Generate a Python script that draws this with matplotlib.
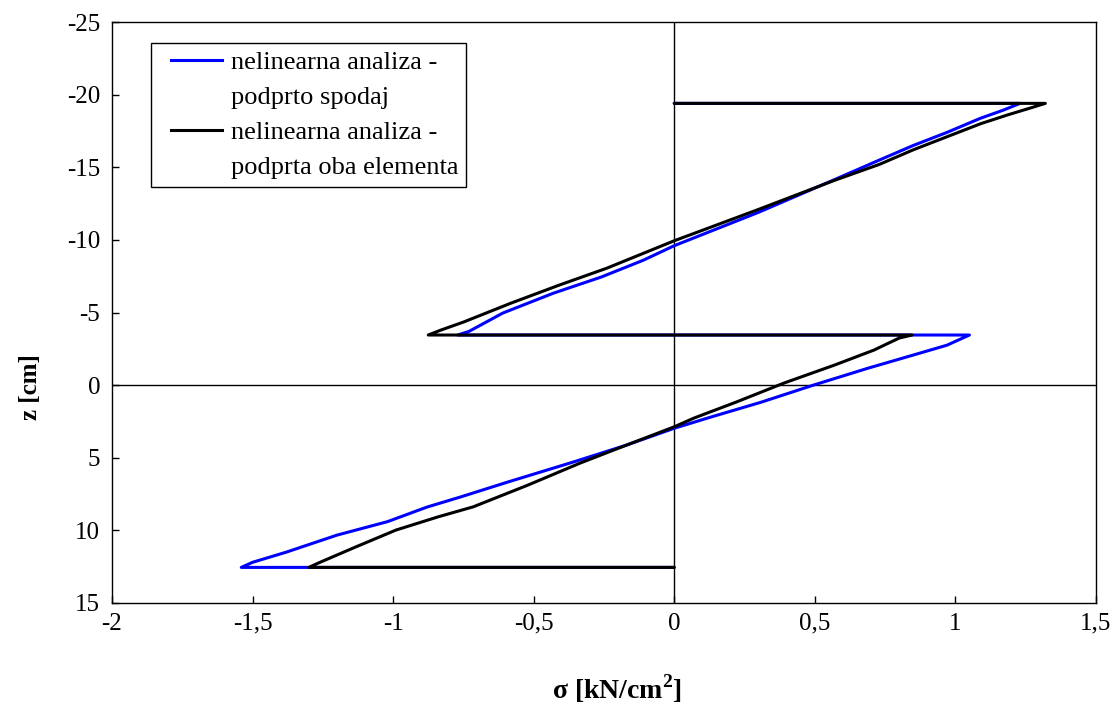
import matplotlib
matplotlib.use("Agg")
import matplotlib.pyplot as plt
from matplotlib.lines import Line2D
from matplotlib.legend_handler import HandlerLine2D

plt.rcParams['font.family'] = ['Liberation Serif', 'DejaVu Serif']
plt.rcParams['mathtext.fontset'] = 'custom'
plt.rcParams['mathtext.rm'] = 'Liberation Serif'
plt.rcParams['mathtext.bf'] = 'Liberation Serif:bold'

# Stress profiles sigma [kN/cm2] over depth z [cm]
sigma_spodaj = [0.0, 1.23, 1.17, 1.09, 0.97, 0.85, 0.73, 0.57, 0.30, 0.0,
                -0.11, -0.26, -0.43, -0.61, -0.73, -0.77,
                1.05, 0.97, 0.85, 0.69, 0.495, 0.31, 0.13, 0.0,
                -0.17, -0.36, -0.59, -0.76, -0.88, -1.02, -1.20, -1.38,
                -1.50, -1.54, 0.0]
z_spodaj = [-19.4, -19.4, -18.93, -18.38, -17.4, -16.5, -15.5, -14.15, -11.9, -9.6,
            -8.6, -7.44, -6.33, -4.96, -3.7, -3.45,
            -3.45, -2.75, -2.07, -1.17, 0.0, 1.17, 2.2, 2.97,
            4.13, 5.3, 6.66, 7.7, 8.4, 9.4, 10.33, 11.5,
            12.2, 12.55, 12.55]

sigma_oba = [0.0, 1.32, 1.27, 1.185, 1.09, 0.97, 0.85, 0.73, 0.57, 0.30, 0.0,
             -0.24, -0.41, -0.58, -0.75, -0.83, -0.875,
             0.846, 0.80, 0.71, 0.57, 0.39, 0.22, 0.07, 0.0,
             -0.17, -0.335, -0.52, -0.715, -0.84, -0.99, -1.14, -1.26,
             -1.30, 0.0]
z_oba = [-19.4, -19.4, -19.1, -18.6, -18.0, -17.1, -16.2, -15.2, -14.1, -12.1, -9.94,
         -8.05, -6.88, -5.65, -4.34, -3.79, -3.45,
         -3.45, -3.24, -2.41, -1.38, -0.14, 1.17, 2.27, 2.87,
         4.13, 5.37, 6.88, 8.38, 9.07, 9.98, 11.2, 12.2,
         12.55, 12.55]

label_spodaj = ["nelinearna analiza -", "podprto spodaj"]
label_oba = ["nelinearna analiza -", "podprta oba elementa"]

x_ticks = [-2, -1.5, -1, -0.5, 0, 0.5, 1, 1.5]
x_ticklabels = ["-2", "-1,5", "-1", "-0,5", "0", "0,5", "1", "1,5"]
y_ticks = [-25, -20, -15, -10, -5, 0, 5, 10, 15]
y_ticklabels = ["-25", "-20", "-15", "-10", "-5", "0", "5", "10", "15"]

fig = plt.figure(figsize=(11.14, 7.13), dpi=100)
ax = fig.add_axes([0.1005, 0.1543, 0.8833, 0.8148])

ax.axhline(0, color='black', lw=1.0, zorder=1)
ax.axvline(0, color='black', lw=1.0, zorder=1)

ax.plot(sigma_spodaj, z_spodaj, color='#0000ff', lw=2.2, zorder=3,
        solid_joinstyle='round', solid_capstyle='round')
ax.plot(sigma_oba, z_oba, color='black', lw=2.2, zorder=4,
        solid_joinstyle='round', solid_capstyle='round')

ax.set_xlim(-2, 1.5)
ax.set_ylim(15, -25)
ax.set_xticks(x_ticks)
ax.set_xticklabels(x_ticklabels)
ax.set_yticks(y_ticks)
ax.set_yticklabels(y_ticklabels)
ax.tick_params(axis='both', direction='in', length=5, width=1, labelsize=18,
               top=False, right=False)
ax.tick_params(axis='y', pad=8.5)
ax.tick_params(axis='x', pad=7)
for s in ax.spines.values():
    s.set_linewidth(1.0)
    s.set_color('black')

ax.set_xlabel(r'σ [kN/cm$^{\mathbf{2}}$]', fontsize=20, fontweight='bold',
              va='center', ha='center')
ax.xaxis.set_label_coords(0.513, -0.148)
ax.set_ylabel('z [cm]', fontsize=18, fontweight='bold', va='center', ha='center')
ax.yaxis.set_label_coords(-0.083, 0.372)

blank = Line2D([], [], color='none')
h_blue = Line2D([], [], color='#0000ff', lw=2.2)
h_black = Line2D([], [], color='black', lw=2.2)
handles = [h_blue, blank, h_black, blank]
labels = [label_spodaj[0], label_spodaj[1], label_oba[0], label_oba[1]]
leg = ax.legend(handles, labels, loc='upper left', bbox_to_anchor=(0.0396, 0.964),
                fontsize=19, frameon=True, fancybox=False, framealpha=1,
                edgecolor='black', handlelength=2.39, handletextpad=0.34,
                labelspacing=0.43, borderpad=0.3, borderaxespad=0,
                handler_map={h_blue: HandlerLine2D(xpad=0.45),
                             h_black: HandlerLine2D(xpad=0.45)})
leg.get_frame().set_linewidth(1.0)

fig.savefig('out.png', dpi=100)
